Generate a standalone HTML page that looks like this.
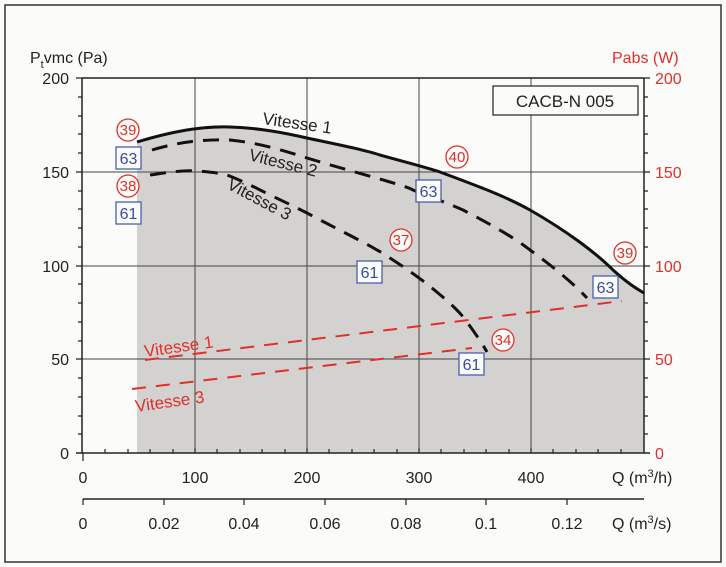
<!DOCTYPE html>
<html><head><meta charset="utf-8"><style>
html,body{margin:0;padding:0;background:#fbfbf9;}
svg{display:block;font-family:"Liberation Sans",sans-serif;}
</style></head><body>
<svg width="726" height="567" viewBox="0 0 726 567" xmlns="http://www.w3.org/2000/svg">
<rect x="0" y="0" width="726" height="567" fill="#fbfbf9"/>
<rect x="5" y="5" width="716" height="557" fill="none" stroke="#333" stroke-width="1.5"/>
<!-- gray fill under Vitesse 1 -->
<path d="M137,453 L137,142 C170,132 200,126 230,127 C260,128 285,133 307,138 C340,145 365,150 380,155 C405,162 425,167 440,172 C475,185 505,196 530,210 C565,230 595,252 613,270 C625,281 635,288 644,293 L644,453 Z" fill="#d4d2d0"/>
<!-- grid -->
<g stroke="#444" stroke-width="1">
<line x1="195" y1="78" x2="195" y2="453"/>
<line x1="307" y1="78" x2="307" y2="453"/>
<line x1="419" y1="78" x2="419" y2="453"/>
<line x1="531" y1="78" x2="531" y2="453"/>
<line x1="82" y1="172" x2="644" y2="172"/>
<line x1="82" y1="266" x2="644" y2="266"/>
<line x1="82" y1="359" x2="644" y2="359"/>
</g>
<g stroke="#222" stroke-width="1.5">
<line x1="82" y1="78" x2="644" y2="78"/>
<line x1="82" y1="78" x2="82" y2="453"/>
<line x1="644" y1="78" x2="644" y2="453"/>
<line x1="76" y1="453" x2="650" y2="453"/>
<line x1="83" y1="499" x2="644" y2="499"/>
</g>
<g stroke="#222" stroke-width="1.2">
<!-- left ticks -->
<path d="M76,78h6M76,172h6M76,266h6M76,359h6M78,97h4M78,116h4M78,134h4M78,153h4M78,191h4M78,209h4M78,228h4M78,247h4M78,284h4M78,303h4M78,322h4M78,341h4M78,378h4M78,397h4M78,416h4M78,434h4"/>
<!-- right ticks -->
<path d="M644,78h6M644,172h6M644,266h6M644,359h6M644,97h4M644,116h4M644,134h4M644,153h4M644,191h4M644,209h4M644,228h4M644,247h4M644,284h4M644,303h4M644,322h4M644,341h4M644,378h4M644,397h4M644,416h4M644,434h4"/>
<!-- bottom ticks -->
<path d="M83,453v8M105,453v-4M128,453v-4M150,453v-4M173,453v-4M195,453v-5M217,453v-4M240,453v-4M262,453v-4M285,453v-4M307,453v-5M329,453v-4M352,453v-4M374,453v-4M397,453v-4M419,453v-5M441,453v-4M464,453v-4M486,453v-4M509,453v-4M531,453v-5M553,453v-4M576,453v-4M598,453v-4M621,453v-4"/>
<path d="M83,499v6M164,499v6M244,499v6M325,499v6M406,499v6M486,499v6M567,499v6"/>
</g>
<!-- tick labels -->
<g font-size="16" fill="#222" text-anchor="end">
<text x="69" y="84">200</text><text x="69" y="178">150</text><text x="69" y="272">100</text><text x="69" y="365">50</text><text x="69" y="459">0</text>
</g>
<g font-size="16" fill="#e0302a">
<text x="655" y="84">200</text><text x="655" y="178">150</text><text x="655" y="272">100</text><text x="655" y="365">50</text><text x="655" y="459">0</text>
<text x="612" y="63">Pabs (W)</text>
</g>
<text x="30" y="63" font-size="16" fill="#222">P<tspan font-size="11" dy="5">t</tspan><tspan dy="-5">vmc (Pa)</tspan></text>
<g font-size="16" fill="#222" text-anchor="middle">
<text x="83" y="483">0</text><text x="195" y="483">100</text><text x="307" y="483">200</text><text x="419" y="483">300</text><text x="531" y="483">400</text>
<text x="83" y="529">0</text><text x="164" y="529">0.02</text><text x="244" y="529">0.04</text><text x="325" y="529">0.06</text><text x="406" y="529">0.08</text><text x="486" y="529">0.1</text><text x="567" y="529">0.12</text>
</g>
<text x="612" y="483" font-size="16" fill="#222">Q (m<tspan font-size="11" dy="-6">3</tspan><tspan dy="6">/h)</tspan></text>
<text x="612" y="529" font-size="16" fill="#222">Q (m<tspan font-size="11" dy="-6">3</tspan><tspan dy="6">/s)</tspan></text>
<!-- CACB box -->
<rect x="493" y="86" width="145" height="29" fill="#fbfbf9" stroke="#222" stroke-width="1.2"/>
<text x="565" y="107" font-size="17" fill="#222" text-anchor="middle">CACB-N 005</text>
<!-- curves -->
<path d="M137,142 C170,132 200,126 230,127 C260,128 285,133 307,138 C340,145 365,150 380,155 C405,162 425,167 440,172 C475,185 505,196 530,210 C565,230 595,252 613,270 C625,281 635,288 644,293" fill="none" stroke="#111" stroke-width="3"/>
<path d="M152,150 C175,143 200,139 230,140 C260,143 285,151 307,158 C340,168 370,176 390,182 C400,185 410,188 413,190 C430,197 450,204 463,210 C490,224 515,238 530,250 C555,268 575,285 587,298" fill="none" stroke="#111" stroke-width="3" stroke-dasharray="16,10"/>
<path d="M150,175 C170,172 185,170 197,171 C210,172 220,173 227,175 C245,182 260,190 270,195 C285,202 297,208 307,213 C335,228 360,240 377,250 C383,253 388,257 393,260 C410,271 425,282 438,293 C450,303 460,312 467,322 C475,333 482,343 487,352" fill="none" stroke="#111" stroke-width="3" stroke-dasharray="16,10"/>
<path d="M145,360 L622,301" fill="none" stroke="#e0302a" stroke-width="2" stroke-dasharray="14,10"/>
<path d="M132,389 L472,348" fill="none" stroke="#e0302a" stroke-width="2" stroke-dasharray="14,10"/>
<!-- curve labels -->
<g font-size="17" fill="#222">
<text transform="translate(262,124) rotate(8)">Vitesse 1</text>
<text transform="translate(248,160) rotate(14)">Vitesse 2</text>
<text transform="translate(226,188) rotate(28)">Vitesse 3</text>
</g>
<g font-size="17" fill="#e0302a">
<text transform="translate(145,357) rotate(-8)">Vitesse 1</text>
<text transform="translate(136,412) rotate(-8)">Vitesse 3</text>
</g>
<!-- circles -->
<g fill="#fbfbf9" stroke="#e0302a" stroke-width="1.3">
<circle cx="128" cy="130" r="11"/><circle cx="128" cy="186" r="11"/>
<circle cx="457" cy="157" r="11"/><circle cx="401" cy="240" r="11"/>
<circle cx="625" cy="253" r="11"/><circle cx="503" cy="340" r="11"/>
</g>
<g font-size="15" fill="#e0302a" text-anchor="middle">
<text x="128" y="135">39</text><text x="128" y="191">38</text>
<text x="457" y="162">40</text><text x="401" y="245">37</text>
<text x="625" y="258">39</text><text x="503" y="345">34</text>
</g>
<!-- boxes -->
<g fill="#fbfbf9" stroke="#4a5fb0" stroke-width="1.3">
<rect x="116" y="147" width="25" height="22"/><rect x="116" y="202" width="25" height="22"/>
<rect x="416" y="180" width="25" height="22"/><rect x="357" y="261" width="25" height="22"/>
<rect x="593" y="276" width="25" height="22"/><rect x="459" y="353" width="25" height="22"/>
</g>
<g font-size="16" fill="#3a4b9a" text-anchor="middle">
<text x="128.5" y="164">63</text><text x="128.5" y="219">61</text>
<text x="428.5" y="197">63</text><text x="369.5" y="278">61</text>
<text x="605.5" y="293">63</text><text x="471.5" y="370">61</text>
</g>
</svg>
</body></html>
